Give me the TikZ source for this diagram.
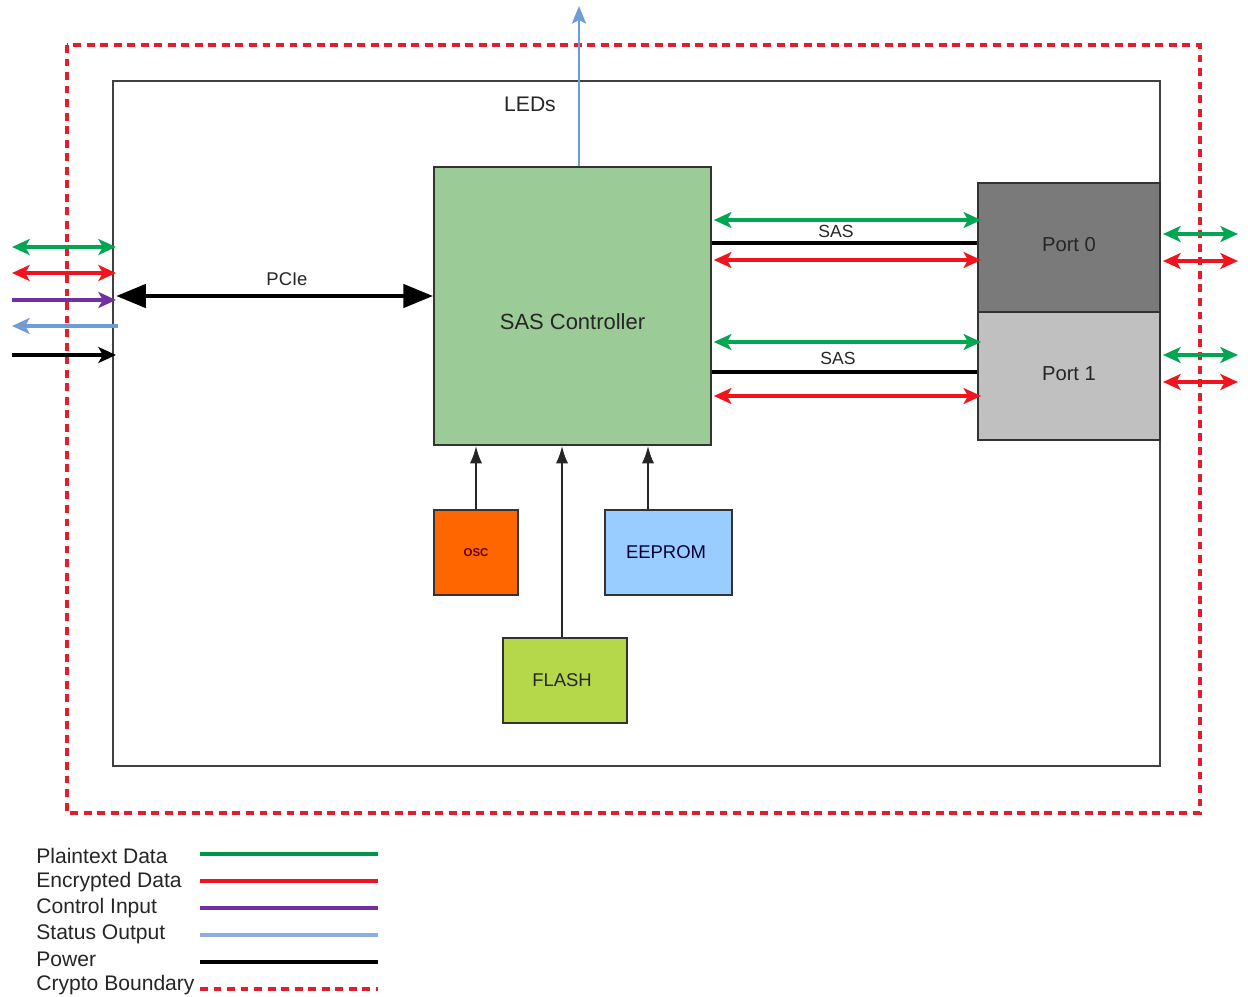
\documentclass[tikz,border=0pt]{standalone}
\usepackage{fontspec}
\setmainfont{Liberation Sans}
\usetikzlibrary{arrows.meta,fit,calc}
\definecolor{pgreen}{RGB}{0,166,81}
\definecolor{ered}{RGB}{240,20,30}
\definecolor{cpurple}{RGB}{112,48,160}
\definecolor{sblue}{RGB}{111,155,215}
\definecolor{bred}{RGB}{225,30,45}
\definecolor{sasfill}{RGB}{155,203,150}
\definecolor{p0fill}{RGB}{122,122,122}
\definecolor{p1fill}{RGB}{192,192,192}
\definecolor{oscfill}{RGB}{255,102,0}
\definecolor{eepfill}{RGB}{153,204,255}
\definecolor{flashfill}{RGB}{181,216,75}
\begin{document}
\begin{tikzpicture}[x=0.02cm,y=-0.02cm,
  box/.style={draw=black!80, line width=0.9pt, inner sep=0pt},
  fs/.style={font=\fontsize{#1}{#1}\selectfont},
  dbl/.style={line width=2pt, {Stealth[length=10pt,width=9pt,inset=2.5pt]}-{Stealth[length=10pt,width=9pt,inset=2.5pt]}},
  onear/.style={line width=2pt, -{Stealth[length=10pt,width=9pt,inset=2.5pt]}},
  gr/.style={dbl, pgreen},
  rd/.style={dbl, ered},
  feed/.style={line width=1.3pt, black!85, -{Latex[length=10pt,width=7pt]}},
  legline/.style={line width=2.3pt},
  boundary/.style={bred, line width=2.3pt, dash pattern=on 4.5pt off 3.2pt}
]
\useasboundingbox (0,0) rectangle (1248,997);
\fill[white] (0,0) rectangle (1248,997);

% crypto boundary and module outline
\draw[boundary] (67,45) rectangle (1200,813);
\node[fit={(113,81) (1160,766)}, draw=black!75, line width=0.8pt, inner sep=0pt] (mod) {};

% main blocks
\node[box, fill=sasfill, fit={(434,167) (711,445)}] (sas) {};
\node[fs=12.5, text=black!85] (sastxt) at (sas.center) [yshift=-0.32cm] {SAS Controller};
\node[box, fill=p0fill, fit={(978,183) (1160,312)}] (p0) {};
\node[fs=11.5, text=black!85] (p0txt) at (p0.center) [yshift=0.05cm] {Port 0};
\node[box, fill=p1fill, fit={(978,312) (1160,440)}] (p1) {};
\node[fs=11.5, text=black!85] (p1txt) at (p1.center) [yshift=0.05cm] {Port 1};
\node[box, fill=oscfill, fit={(434,510) (518,595)}] (osc) {};
\node[text=black!60!red, font=\bfseries\fontsize{6.5}{7}\selectfont] (osctxt) at (osc.center) {OSC};
\node[box, fill=eepfill, fit={(605,510) (732,595)}] (eep) {};
\node[fs=10.5, text=black!80!blue] (eeptxt) at ([xshift=-0.05cm]eep.center) {EEPROM};
\node[box, fill=flashfill, fit={(503,638) (627,723)}] (flash) {};
\node[fs=10.5, text=black!85] (flashtxt) at ([xshift=-0.06cm]flash.center) {FLASH};

% LEDs
\coordinate (ledtop) at (579,6);
\draw[sblue, line width=1.5pt, -{Stealth[length=10pt,width=8pt,inset=2pt]}] (sas.north -| ledtop) -- (ledtop);
\node[fs=12, text=black!85] (leds) at (530,104) {LEDs};

% feeds into SAS controller
\draw[feed] (osc.north -| 476,0) -- (sas.south -| 476,0);
\draw[feed] (flash.north -| 562,0) -- (sas.south -| 562,0);
\draw[feed] (eep.north -| 648,0) -- (sas.south -| 648,0);

% PCIe
\coordinate (pcl) at (116,296);
\draw[line width=2.8pt, {Triangle[length=17pt,width=13pt]}-{Triangle[length=17pt,width=13pt]}] (pcl) -- (sas.west |- pcl);
\node[fs=10.5, text=black!85] (pcie) at (287,279) {PCIe};

% SAS links
\draw[gr] ($(sas.east |- 0,220)+(2,0)$) -- ($(p0.west |- 0,220)+(4,0)$);
\draw[line width=2.6pt] (sas.east |- 0,243) -- (p0.west |- 0,243);
\node[fs=10, text=black!85] (sas0) at (836,231) {SAS};
\draw[rd] ($(sas.east |- 0,260)+(2,0)$) -- ($(p0.west |- 0,260)+(4,0)$);
\draw[gr] ($(sas.east |- 0,342)+(2,0)$) -- ($(p1.west |- 0,342)+(4,0)$);
\draw[line width=2.6pt] (sas.east |- 0,372) -- (p1.west |- 0,372);
\node[fs=10, text=black!85] (sas1) at (838,358) {SAS};
\draw[rd] ($(sas.east |- 0,396)+(2,0)$) -- ($(p1.west |- 0,396)+(4,0)$);

% external interfaces left
\coordinate (lg1) at (12,247);  \coordinate (lg2) at (116,247);
\coordinate (lr1) at (12,273);  \coordinate (lr2) at (116,273);
\coordinate (lp1) at (12,300);  \coordinate (lp2) at (116,300);
\coordinate (lb1) at (12,326);  \coordinate (lb2) at (118,326);
\coordinate (lk1) at (12,355);  \coordinate (lk2) at (116,355);
\draw[gr] (lg1) -- (lg2);
\draw[rd] (lr1) -- (lr2);
\draw[onear, cpurple] (lp1) -- (lp2);
\draw[onear, sblue] (lb2) -- (lb1);
\draw[onear, black] (lk1) -- (lk2);

% external interfaces right
\coordinate (rg1) at (1163,234); \coordinate (rg2) at (1238,234);
\coordinate (rr1) at (1163,261); \coordinate (rr2) at (1238,261);
\coordinate (rg3) at (1163,355); \coordinate (rg4) at (1238,355);
\coordinate (rr3) at (1163,382); \coordinate (rr4) at (1238,382);
\draw[gr] (rg1) -- (rg2);
\draw[rd] (rr1) -- (rr2);
\draw[gr] (rg3) -- (rg4);
\draw[rd] (rr3) -- (rr4);

% legend
\foreach \t/\y/\n in {Plaintext Data/856/a, Encrypted Data/882/b, Control Input/908/c, Status Output/934/d, Power/959/e, Crypto Boundary/985/f}
  \node[fs=12, text=black!85, anchor=west, inner sep=0pt] (leg\n) at (36,\y) {\t};
\coordinate (la1) at (200,854); \coordinate (la2) at (378,854);
\coordinate (lb1x) at (200,881); \coordinate (lb2x) at (378,881);
\coordinate (lc1) at (200,908); \coordinate (lc2) at (378,908);
\coordinate (ld1) at (200,935); \coordinate (ld2) at (378,935);
\coordinate (le1) at (200,962); \coordinate (le2) at (378,962);
\coordinate (lf1) at (200,989); \coordinate (lf2) at (378,989);
\draw[legline, pgreen!90!black] (la1) -- (la2);
\draw[legline, ered] (lb1x) -- (lb2x);
\draw[legline, cpurple] (lc1) -- (lc2);
\draw[legline, sblue!80!white] (ld1) -- (ld2);
\draw[legline, black] (le1) -- (le2);
\draw[boundary] (lf1) -- (lf2);
\end{tikzpicture}
\end{document}
